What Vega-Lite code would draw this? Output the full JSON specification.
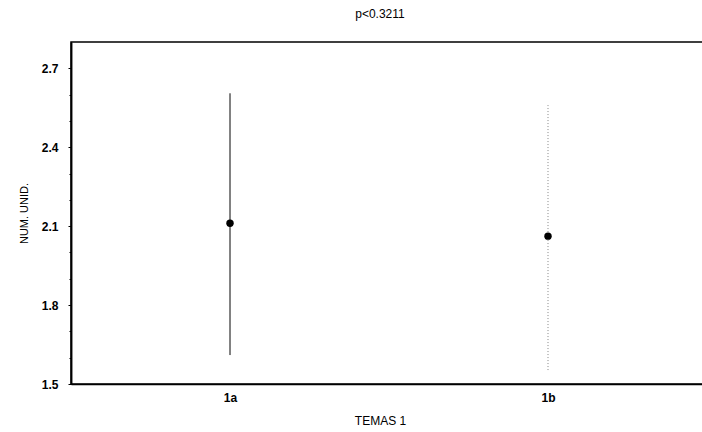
{
  "$schema": "https://vega.github.io/schema/vega-lite/v6.json",
  "autosize": "none",
  "width": 636,
  "height": 342,
  "padding": {"left": 71, "top": 42, "right": 0, "bottom": 48},
  "background": "white",
  "config": {
    "font": "Liberation Sans",
    "view": {"stroke": "black", "strokeWidth": 1.5},
    "axis": {"grid": false, "labelOverlap": false, "domainColor": "black", "tickColor": "black", "labelColor": "black", "titleColor": "black", "labelFont": "Liberation Sans", "titleFont": "Liberation Sans"}
  },
  "title": {"text": "p<0.3211", "fontSize": 12, "fontWeight": "normal", "font": "Liberation Sans", "color": "black", "offset": 21, "anchor": "middle", "dx": -9},
  "data": {"values": [
    {"tema": "1a", "mean": 2.111, "lo": 1.61, "hi": 2.605},
    {"tema": "1b", "mean": 2.062, "lo": 1.553, "hi": 2.56}
  ]},
  "encoding": {
    "x": {"field": "tema", "type": "ordinal", "scale": {"type": "point", "padding": 0.5},
      "axis": {"title": "TEMAS 1", "labelAngle": 0, "labelFontSize": 12, "labelFontWeight": "bold", "titleFontSize": 12, "titleFontWeight": "normal", "ticks": false, "labelPadding": 8, "titlePadding": 12, "domainWidth": 1.5, "titleAnchor": "middle", "titleAlign": "center", "titleX": 309}}
  },
  "resolve": {"axis": {"y": "independent"}},
  "layer": [
    {
      "mark": {"type": "rule", "strokeWidth": 1},
      "encoding": {
        "y": {"field": "lo", "type": "quantitative", "scale": {"domain": [1.5, 2.8], "nice": false, "zero": false},
          "axis": {"orient": "left", "title": "NUM. UNID.", "values": [1.5, 1.8, 2.1, 2.4, 2.7], "format": ".1f",
            "tickSize": 3, "labelFontSize": 12, "labelFontWeight": "bold", "labelPadding": 10, "titleFontSize": 11, "titleFontWeight": "normal", "titlePadding": 12, "domainWidth": 1.5}},
        "y2": {"field": "hi"},
        "color": {"condition": {"test": "datum.tema === '1b'", "value": "#888888"}, "value": "black"},
        "strokeDash": {"condition": {"test": "datum.tema === '1b'", "value": [1, 2]}, "value": [1, 0]}
      }
    },
    {
      "mark": {"type": "point", "filled": true, "size": 55, "color": "black", "opacity": 1},
      "encoding": {
        "y": {"field": "mean", "type": "quantitative",
          "axis": {"orient": "left", "title": null, "labels": false, "values": [1.6, 1.7, 1.9, 2.0, 2.2, 2.3, 2.5, 2.6], "tickSize": 2, "domainWidth": 1.5}}
      }
    }
  ]
}
